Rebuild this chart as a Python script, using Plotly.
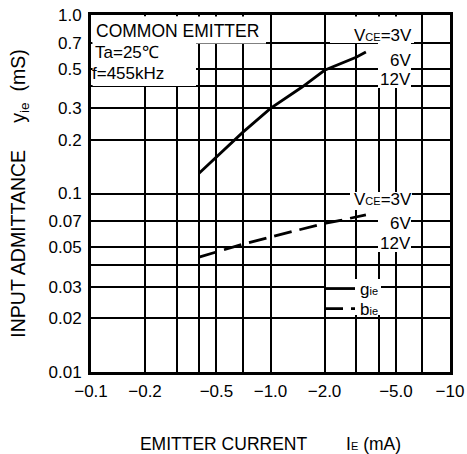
import math
import plotly.graph_objects as go

# ---------------- data (|IE| in mA; emitter current is negative) ----------------
ie_ma = [0.4, 0.5, 0.7, 1.0, 1.5, 2.0, 2.5, 3.0, 3.4]
g_ie = [0.13, 0.16, 0.22, 0.30, 0.395, 0.49, 0.54, 0.58, 0.62]
b_ie = [0.044, 0.047, 0.052, 0.057, 0.063, 0.068, 0.071, 0.074, 0.076]

x_tickvals = [0.1, 0.2, 0.5, 1.0, 2.0, 5.0, 10.0]
x_ticktext = ["\u22120.1", "\u22120.2", "\u22120.5", "\u22121.0", "\u22122.0", "\u22125.0", "\u221210"]
x_minor = [0.3, 0.4, 0.7, 3.0, 4.0, 7.0]
y_tickvals = [0.01, 0.02, 0.03, 0.05, 0.07, 0.1, 0.2, 0.3, 0.5, 0.7, 1.0]
y_ticktext = ["0.01", "0.02", "0.03", "0.05", "0.07", "0.1", "0.2", "0.3", "0.5", "0.7", "1.0"]
y_minor = [0.04, 0.4]

FONT = "Liberation Sans, Arial, sans-serif"
W, H = 467, 454
L, R, T, B = 91, 17, 15, 82
PW, PH = W - L - R, H - T - B


def px(x):
    return (x - L) / PW


def py(y):
    return (T + PH - y) / PH


SMALL = "<span style='font-size:11px'>{}</span>"

fig = go.Figure()
fig.add_trace(go.Scatter(x=ie_ma, y=g_ie, mode="lines", name="g" + SMALL.format("ie"),
                         line=dict(color="black", width=2.8), legend="legend"))
fig.add_trace(go.Scatter(x=ie_ma, y=b_ie, mode="lines", name="b" + SMALL.format("ie"),
                         line=dict(color="black", width=2.8, dash="18px,8px"), legend="legend2"))

shapes = []
# thick reference lines at IE=-1.0 mA and y=0.1 mS
shapes.append(dict(type="line", xref="x", yref="paper", x0=math.log10(1.0), x1=math.log10(1.0),
                   y0=0, y1=1, line=dict(color="black", width=3), layer="between"))
shapes.append(dict(type="line", xref="paper", yref="y", x0=0, x1=1,
                   y0=math.log10(0.1), y1=math.log10(0.1), line=dict(color="black", width=3), layer="between"))
# white masks behind label blocks (hide grid lines there)
masks = [
    (92.6, 16.6, 266, 43.5),
    (92.6, 16.6, 196, 86),
    (330, 16.6, 414, 43),
    (378, 43, 411, 88),
    (350, 192, 412, 210),
    (378, 192, 411, 252),
    (326, 279, 381, 315),
]
for x0, y0, x1, y1 in masks:
    shapes.append(dict(type="rect", xref="paper", yref="paper", x0=px(x0), x1=px(x1),
                       y0=py(y1), y1=py(y0), fillcolor="white", line=dict(width=0), layer="above"))

ann = []


def add_text(text, x, y, anchor="left", size=17, bg="white"):
    ann.append(dict(text=text, x=px(x), y=py(y), xref="paper", yref="paper", xanchor=anchor,
                    yanchor="middle", showarrow=False, bgcolor=bg, borderpad=0,
                    font=dict(family=FONT, size=size, color="black")))


CLEAR = "rgba(0,0,0,0)"
add_text("COMMON EMITTER", 95, 31, size=17.5, bg=CLEAR)
add_text("Ta=25\u2103", 94, 53, bg=CLEAR)
add_text("f=455kHz", 91, 73, bg=CLEAR)
add_text("V" + SMALL.format("CE") + "=3V", 413, 35, "right", bg=CLEAR)
add_text("6V", 412, 60, "right", bg=CLEAR)
add_text("12V", 412, 79, "right", bg=CLEAR)
add_text("V" + SMALL.format("CE") + "=3V", 413, 200, "right", bg=CLEAR)
add_text("6V", 412, 224, "right", bg=CLEAR)
add_text("12V", 412, 244, "right", bg=CLEAR)

NB = "\u00a0"
leg_common = dict(xanchor="left", yanchor="top", bgcolor=CLEAR, borderwidth=0,
                  font=dict(family=FONT, size=17), itemwidth=30)
fig.update_layout(
    width=W, height=H, autosize=False,
    margin=dict(l=L, r=R, t=T, b=B, autoexpand=False),
    paper_bgcolor="white", plot_bgcolor="white",
    font=dict(family=FONT, size=17, color="black"),
    shapes=shapes, annotations=ann,
    showlegend=True,
    legend=dict(x=px(320), y=py(271), **leg_common),
    legend2=dict(x=px(320), y=py(291), **leg_common),
    xaxis=dict(type="log", range=[-1, 1], tickmode="array", tickvals=x_tickvals, ticktext=x_ticktext,
               showgrid=True, gridcolor="black", gridwidth=1.5, ticks="", automargin=False,
               minor=dict(tickmode="array", tickvals=x_minor, showgrid=True, gridcolor="black",
                          gridwidth=1.5, ticks=""),
               showline=True, linecolor="black", linewidth=3, mirror=True, zeroline=False,
               tickfont=dict(family=FONT, size=17), ticklabelstandoff=2,
               title=dict(text="EMITTER CURRENT" + NB * 8 + "I" + SMALL.format("E") + " (mA)",
                          font=dict(family=FONT, size=17.5), standoff=47)),
    yaxis=dict(type="log", range=[-2, 0], tickmode="array", tickvals=y_tickvals, ticktext=y_ticktext,
               showgrid=True, gridcolor="black", gridwidth=1.5, ticks="", automargin=False,
               minor=dict(tickmode="array", tickvals=y_minor, showgrid=True, gridcolor="black",
                          gridwidth=1.5, ticks=""),
               showline=True, linecolor="black", linewidth=3, mirror=True, zeroline=False,
               tickfont=dict(family=FONT, size=17), ticklabelstandoff=3,
               title=dict(text="INPUT ADMITTANCE" + NB * 5 + "y<sub>ie</sub>" + NB * 2 + "(mS)",
                          font=dict(family=FONT, size=19.5), standoff=18)),
)

fig.write_html("out.html", config={"displayModeBar": False},
               post_script="document.body.style.margin='0px';")
